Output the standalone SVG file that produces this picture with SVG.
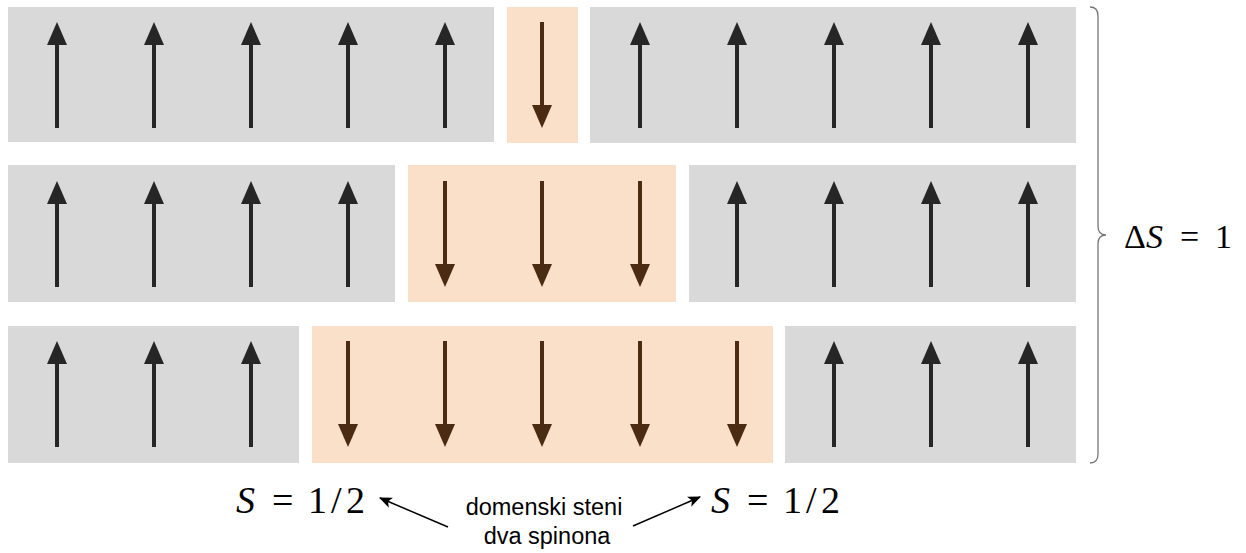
<svg xmlns="http://www.w3.org/2000/svg" width="1246" height="553" viewBox="0 0 1246 553">
<style>
.g{fill:#d9d9d9}
.o{fill:#fbe0c9}
.up{stroke:#262626;stroke-width:4;fill:none}
.dn{stroke:#4b2c13;stroke-width:4;fill:none}
.hu{fill:#262626}
.hd{fill:#4b2c13}
.m{font-family:"Liberation Serif","DejaVu Serif",serif;font-size:38px;fill:#000}
.m2{font-family:"Liberation Serif","DejaVu Serif",serif;font-size:34px;fill:#000}
.t{font-family:"Liberation Sans",Arial,sans-serif;font-size:23.5px;fill:#000;text-anchor:middle}
.c{stroke:#000;stroke-width:1.5;fill:none}
</style>
<defs>
<g id="u"><line class="up" x1="0" y1="106" x2="0" y2="22"/><polygon class="hu" points="0,0 10,23 -10,23"/></g>
<g id="d"><line class="dn" x1="0" y1="0" x2="0" y2="84"/><polygon class="hd" points="0,106 10,83 -10,83"/></g>
<marker id="ah" viewBox="0 0 12 10" refX="11" refY="5" markerWidth="13" markerHeight="11" markerUnits="userSpaceOnUse" orient="auto"><path d="M0,0 L12,5 L0,10 L3,5 z" fill="#000"/></marker>
</defs>
<g id="row1">
<rect class="g" x="8" y="7" width="486" height="135"/>
<rect class="o" x="507" y="7" width="71" height="136"/>
<rect class="g" x="590" y="7" width="486" height="136"/>
<use href="#u" x="57" y="22"/><use href="#u" x="154" y="22"/><use href="#u" x="251" y="22"/><use href="#u" x="348" y="22"/><use href="#u" x="445" y="22"/>
<use href="#d" x="542" y="22"/>
<use href="#u" x="640" y="22"/><use href="#u" x="737" y="22"/><use href="#u" x="834" y="22"/><use href="#u" x="931" y="22"/><use href="#u" x="1028" y="22"/>
</g>
<g id="row2">
<rect class="g" x="8" y="165" width="387" height="137"/>
<rect class="o" x="408" y="165" width="268" height="137"/>
<rect class="g" x="689" y="165" width="387" height="137"/>
<use href="#u" x="57" y="181"/><use href="#u" x="154" y="181"/><use href="#u" x="251" y="181"/><use href="#u" x="348" y="181"/>
<use href="#d" x="445" y="181"/><use href="#d" x="542" y="181"/><use href="#d" x="640" y="181"/>
<use href="#u" x="737" y="181"/><use href="#u" x="834" y="181"/><use href="#u" x="931" y="181"/><use href="#u" x="1028" y="181"/>
</g>
<g id="row3">
<rect class="g" x="8" y="326" width="291" height="137"/>
<rect class="o" x="312" y="326" width="461" height="137"/>
<rect class="g" x="785" y="326" width="291" height="137"/>
<use href="#u" x="57" y="341"/><use href="#u" x="154" y="341"/><use href="#u" x="251" y="341"/>
<use href="#d" x="348" y="341"/><use href="#d" x="445" y="341"/><use href="#d" x="542" y="341"/><use href="#d" x="640" y="341"/><use href="#d" x="737" y="341"/>
<use href="#u" x="834" y="341"/><use href="#u" x="931" y="341"/><use href="#u" x="1028" y="341"/>
</g>
<g id="brace">
<path d="M1090,7 Q1098,7 1098,16 L1098,226 Q1098,235 1106,235 Q1098,235 1098,244 L1098,454 Q1098,463 1090,463" fill="none" stroke="#777" stroke-width="1.3"/>
<text class="m2" y="248"><tspan x="1124">Δ</tspan><tspan x="1146" font-style="italic">S</tspan><tspan x="1180">=</tspan><tspan x="1215">1</tspan></text>
</g>
<g id="labels">
<text class="m" y="513"><tspan x="236" font-style="italic">S</tspan><tspan x="272">=</tspan><tspan x="308">1</tspan><tspan x="331">/</tspan><tspan x="346">2</tspan></text>
<text class="m" y="513"><tspan x="711" font-style="italic">S</tspan><tspan x="747">=</tspan><tspan x="783">1</tspan><tspan x="806">/</tspan><tspan x="821">2</tspan></text>
<text class="t" x="544" y="515">domenski steni</text>
<text class="t" x="547" y="544">dva spinona</text>
</g>
<g id="connectors">
<line class="c" x1="448" y1="527" x2="380" y2="498" marker-end="url(#ah)"/>
<line class="c" x1="633" y1="526" x2="700" y2="497" marker-end="url(#ah)"/>
</g>
</svg>
